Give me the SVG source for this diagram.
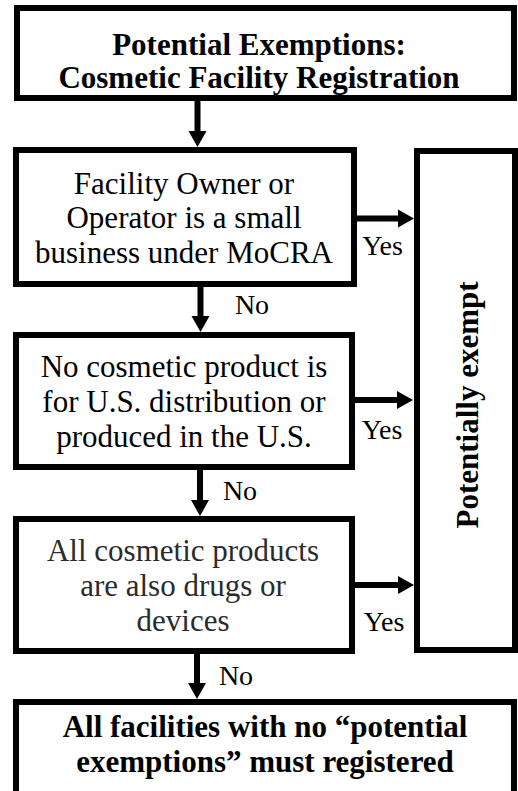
<svg xmlns="http://www.w3.org/2000/svg" width="518" height="791" viewBox="0 0 518 791">
<style>
  .box { fill: #ffffff; stroke: #000000; stroke-width: 6; }
  .t { font-family: "Liberation Serif", "Times New Roman", serif; font-size: 31px; fill: #000000; text-anchor: middle; }
  .b { font-weight: bold; }
  .gray { fill: #2b2b2b; }
  .lbl { font-family: "Liberation Serif", "Times New Roman", serif; font-size: 28px; fill: #000000; text-anchor: middle; }
  .conn { stroke: #000000; stroke-width: 6; fill: none; marker-end: url(#ah); }
</style>
<defs>
  <marker id="ah" markerUnits="userSpaceOnUse" viewBox="-1 -10 17 20" markerWidth="17" markerHeight="20" refX="0" refY="0" orient="auto">
    <path d="M-1,-9 L15,0 L-1,9 z" fill="#000000"/>
  </marker>
</defs>
<rect x="0" y="0" width="518" height="791" fill="#ffffff"/>

<g id="connectors">
  <line class="conn" x1="197.5" y1="101" x2="197.5" y2="132"/>
  <line class="conn" x1="200.5" y1="287" x2="200.5" y2="317"/>
  <line class="conn" x1="200" y1="470" x2="200" y2="501"/>
  <line class="conn" x1="197" y1="654" x2="197" y2="684"/>
  <line class="conn" x1="357" y1="218.5" x2="399" y2="218.5"/>
  <line class="conn" x1="355" y1="400" x2="398" y2="400"/>
  <line class="conn" x1="355" y1="585" x2="399" y2="585"/>
  <text class="lbl" x="382.5" y="255">Yes</text>
  <text class="lbl" x="382" y="439">Yes</text>
  <text class="lbl" x="384" y="631">Yes</text>
  <text class="lbl" x="252" y="314">No</text>
  <text class="lbl" x="240" y="500">No</text>
  <text class="lbl" x="236" y="685">No</text>
</g>

<g id="title">
  <rect class="box" x="17" y="8" width="497" height="90"/>
  <text class="t b" x="259" y="55" font-size="33.5">Potential Exemptions:</text>
  <text class="t b" x="259" y="88" font-size="33.5">Cosmetic Facility Registration</text>
</g>

<g id="small-business">
  <rect class="box" x="16" y="150" width="338" height="134"/>
  <text class="t" x="184" y="194">Facility Owner or</text>
  <text class="t" x="184" y="228">Operator is a small</text>
  <text class="t" x="184" y="263">business under MoCRA</text>
</g>

<g id="no-us-distribution">
  <rect class="box" x="16" y="335" width="336" height="132"/>
  <text class="t" x="184" y="377">No cosmetic product is</text>
  <text class="t" x="184" y="412">for U.S. distribution or</text>
  <text class="t" x="184" y="447">produced in the U.S.</text>
</g>

<g id="drugs-or-devices">
  <rect class="box" x="16" y="519" width="336" height="132"/>
  <text class="t gray" x="183" y="561">All cosmetic products</text>
  <text class="t gray" x="183" y="596">are also drugs or</text>
  <text class="t gray" x="183" y="631">devices</text>
</g>

<g id="potentially-exempt">
  <rect class="box" x="417" y="151" width="98" height="499"/>
  <text class="t b" font-size="35" transform="translate(478,405) rotate(-90)" x="0" y="0">Potentially exempt</text>
</g>

<g id="must-register">
  <rect class="box" x="16" y="702" width="498" height="110"/>
  <text class="t b" x="265" y="737" font-size="32.5">All facilities with no “potential</text>
  <text class="t b" x="265" y="772" font-size="32.5">exemptions” must registered</text>
</g>
</svg>
